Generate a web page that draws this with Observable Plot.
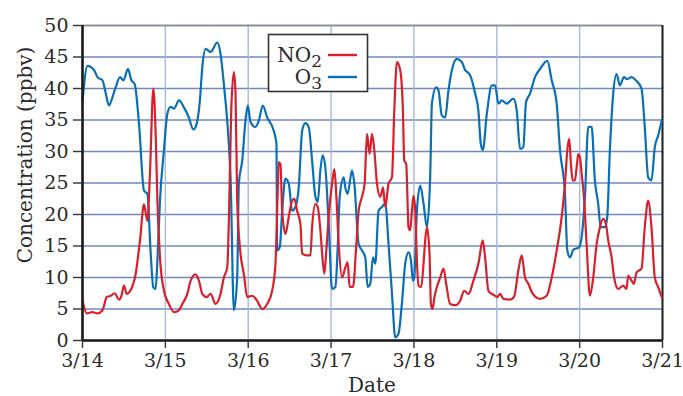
<!DOCTYPE html>
<html>
<head>
<meta charset="utf-8">
<script src="https://cdn.jsdelivr.net/npm/d3@7"></script>
<script src="https://cdn.jsdelivr.net/npm/@observablehq/plot@0.6"></script>
<style>
  html, body { margin: 0; padding: 0; background: #fff; }
  #chart svg { display: block; }
</style>
</head>
<body>
<div id="chart"></div>
<script>
// Days elapsed since 3/14 00:00
const o3Days = [0.000,0.060,0.140,0.181,0.241,0.281,0.320,0.361,0.401,0.453,0.494,0.549,0.590,0.630,0.682,0.742,0.783,0.823,0.855,0.883,0.904,0.935,0.983,1.024,1.064,1.104,1.164,1.224,1.284,1.337,1.365,1.417,1.446,1.486,1.546,1.627,1.666,1.706,1.766,1.787,1.827,1.867,1.887,1.928,1.967,1.995,2.028,2.088,2.128,2.176,2.229,2.308,2.341,2.349,2.381,2.410,2.449,2.489,2.530,2.570,2.610,2.651,2.690,2.730,2.771,2.811,2.839,2.871,2.899,2.931,2.971,3.012,3.052,3.080,3.104,3.152,3.172,3.200,3.253,3.281,3.333,3.373,3.413,3.441,3.473,3.506,3.534,3.573,3.614,3.654,3.694,3.735,3.775,3.814,3.855,3.895,3.935,3.964,3.988,4.004,4.036,4.076,4.116,4.157,4.196,4.217,4.269,4.296,4.337,4.377,4.417,4.458,4.518,4.578,4.618,4.646,4.678,4.739,4.778,4.807,4.831,4.880,4.940,4.980,5.019,5.060,5.120,5.200,5.241,5.281,5.320,5.353,5.401,5.461,5.522,5.610,5.663,5.723,5.763,5.823,5.851,5.884,5.923,5.995,6.024,6.064,6.104,6.145,6.184,6.224,6.253,6.305,6.333,6.365,6.405,6.446,6.486,6.534,6.573,6.627,6.678,6.747,6.786,6.827,6.867,6.907,6.947,6.990];
const o3Values = [38.0,43.6,42.9,41.8,41.3,39.2,37.3,38.6,40.2,41.8,41.3,43.1,41.3,40.7,34.4,23.8,23.3,13.8,8.4,8.2,12.7,22.2,30.2,36.0,37.1,36.8,38.1,37.0,35.4,33.5,33.9,38.1,43.4,46.3,45.8,47.3,45.5,40.7,31.2,25.9,4.8,10.0,24.9,28.6,34.9,37.3,34.7,33.9,34.9,37.3,35.4,33.3,31.2,14.3,14.8,20.6,25.7,24.9,20.6,21.2,24.3,33.3,34.5,33.9,28.6,22.8,22.0,27.0,29.4,27.5,18.5,8.2,8.5,14.8,22.8,25.9,24.3,23.3,27.0,24.9,15.3,14.3,13.2,8.5,9.0,13.2,12.2,20.6,21.2,21.7,15.3,7.4,0.5,1.1,5.9,12.2,14.0,12.7,9.5,10.0,20.6,24.6,21.7,18.0,25.9,37.6,40.2,39.7,35.7,35.4,39.7,42.9,44.7,44.2,42.9,42.6,42.1,39.2,36.5,31.2,30.2,36.0,40.5,40.5,37.6,38.1,37.6,38.4,36.5,30.4,30.7,37.8,39.2,41.8,43.1,44.4,41.3,37.6,30.2,23.3,14.3,13.2,14.4,14.8,16.4,22.8,33.9,33.9,25.4,21.7,18.0,18.0,19.6,30.2,39.2,42.3,40.5,41.8,41.5,41.8,41.3,40.0,33.9,25.9,25.4,30.7,32.5,34.9];

const no2Days = [0.000,0.052,0.120,0.181,0.241,0.293,0.341,0.389,0.441,0.470,0.501,0.534,0.582,0.642,0.694,0.742,0.783,0.814,0.855,0.883,0.904,0.935,0.983,1.043,1.104,1.164,1.205,1.265,1.305,1.365,1.405,1.446,1.498,1.546,1.606,1.666,1.706,1.747,1.778,1.795,1.827,1.847,1.867,1.907,1.947,1.988,2.048,2.108,2.169,2.229,2.289,2.329,2.349,2.369,2.389,2.410,2.449,2.489,2.530,2.558,2.590,2.630,2.651,2.711,2.751,2.771,2.811,2.839,2.871,2.899,2.919,2.943,2.971,3.012,3.040,3.064,3.092,3.133,3.172,3.200,3.224,3.265,3.305,3.333,3.373,3.405,3.434,3.465,3.494,3.522,3.554,3.594,3.627,3.654,3.694,3.735,3.763,3.795,3.835,3.867,3.883,3.907,3.935,3.955,3.976,3.995,4.016,4.036,4.055,4.088,4.116,4.136,4.157,4.188,4.205,4.224,4.248,4.277,4.317,4.357,4.389,4.437,4.498,4.558,4.606,4.658,4.718,4.778,4.831,4.859,4.899,4.940,4.980,5.007,5.040,5.080,5.160,5.208,5.260,5.301,5.341,5.381,5.422,5.461,5.522,5.602,5.663,5.723,5.783,5.823,5.851,5.875,5.895,5.916,5.943,5.964,5.983,6.004,6.024,6.052,6.084,6.124,6.164,6.205,6.245,6.284,6.317,6.345,6.386,6.416,6.465,6.525,6.566,6.586,6.627,6.655,6.687,6.747,6.786,6.827,6.867,6.907,6.947,6.990];
const no2Values = [6.3,4.3,4.5,4.3,4.8,6.9,7.1,7.5,6.5,7.1,8.7,7.4,8.0,10.6,15.9,21.6,19.0,26.5,40.0,32.8,22.2,13.2,7.9,5.8,4.5,4.8,5.8,7.4,9.5,10.5,9.5,7.4,6.9,7.4,5.8,7.4,10.0,11.6,25.9,36.5,42.6,39.2,22.2,13.8,10.6,6.9,7.1,6.3,5.0,5.8,7.9,12.2,20.6,28.3,28.0,20.6,16.9,19.6,22.2,22.5,20.6,18.5,13.8,13.5,13.5,18.0,21.7,21.2,17.5,12.7,10.6,14.3,19.6,24.9,27.2,22.8,15.3,10.0,11.6,12.4,8.5,8.5,15.3,20.6,22.8,24.9,32.8,29.6,32.8,30.2,24.9,22.8,24.3,21.2,24.9,25.9,36.5,44.2,42.9,36.5,28.6,28.0,18.0,17.5,20.6,23.0,20.6,12.7,8.7,8.5,12.2,15.9,18.0,13.8,5.8,5.0,6.9,8.5,10.0,11.4,9.0,5.8,5.6,6.3,7.9,7.4,9.5,12.2,15.9,13.2,7.9,7.4,7.1,6.9,7.4,6.6,6.5,6.9,11.1,13.5,10.0,9.0,7.7,7.0,6.6,7.1,10.0,14.3,19.6,24.9,30.2,32.0,28.0,25.4,25.4,27.5,29.6,29.1,26.5,22.8,15.3,7.1,10.0,15.3,18.0,19.3,18.5,15.9,13.2,10.0,8.2,8.7,8.2,10.3,9.5,9.0,10.8,11.4,18.0,22.2,18.0,10.0,8.5,6.9];

const tickDays = [14, 15, 16, 17, 18, 19, 20, 21];
const tickLabels = ["3/14", "3/15", "3/16", "3/17", "3/18", "3/19", "3/20", "3/21"];
const yTicks = [0, 5, 10, 15, 20, 25, 30, 35, 40, 45, 50];
const seriesNames = ["NO2", "O3"];
const yLabel = "Concentration (ppbv)";
const xLabel = "Date";

const startDay = 14;
const o3 = o3Days.map((d, i) => ({day: startDay + d, value: o3Values[i]}));
const no2 = no2Days.map((d, i) => ({day: startDay + d, value: no2Values[i]}));

const RED = "#d8202c";
const BLUE = "#0b6fb6";
const FONT = "'DejaVu Serif', serif";

const chart = Plot.plot({
  width: 683,
  height: 396,
  marginLeft: 82,
  marginRight: 21,
  marginTop: 25,
  marginBottom: 56,
  style: {fontFamily: FONT, fontSize: "19px", color: "#2a2a2a", background: "#fff", overflow: "visible"},
  x: {domain: [14, 21]},
  y: {domain: [0, 50]},
  marks: [
    Plot.gridY(yTicks, {stroke: "#7088bd", strokeOpacity: 1, strokeWidth: 1.4}),
    Plot.gridX(tickDays, {stroke: "#a9b8d7", strokeOpacity: 1, strokeWidth: 1.4}),
    Plot.ruleY([50], {stroke: "#8a8a8a", strokeWidth: 1.6}),
    Plot.ruleX([21], {stroke: "#222", strokeWidth: 2}),
    Plot.line(o3, {x: "day", y: "value", stroke: BLUE, strokeWidth: 2.2, curve: "monotone-x"}),
    Plot.line(no2, {x: "day", y: "value", stroke: RED, strokeWidth: 2.2, curve: "monotone-x"}),
    Plot.ruleX([14], {stroke: "#1a1a1a", strokeWidth: 2.6}),
    Plot.ruleY([0], {stroke: "#1a1a1a", strokeWidth: 2.6}),
    Plot.axisX({ticks: tickDays, tickFormat: (d) => tickLabels[tickDays.indexOf(d)], tickSize: 8, tickPadding: 5, label: null, stroke: "#333", strokeWidth: 1.4}),
    Plot.axisY({ticks: yTicks, tickSize: 9, tickPadding: 5, label: null, stroke: "#333", strokeWidth: 1.4})
  ]
});

document.getElementById("chart").appendChild(chart);

// Axis titles and legend added to the SVG
const svg = d3.select(chart);

svg.append("text")
  .attr("transform", "translate(32,155) rotate(-90)")
  .attr("text-anchor", "middle")
  .attr("font-family", FONT)
  .attr("font-size", 20)
  .attr("fill", "#2a2a2a")
  .text(yLabel);

svg.append("text")
  .attr("x", 372)
  .attr("y", 392)
  .attr("text-anchor", "middle")
  .attr("font-family", FONT)
  .attr("font-size", 20)
  .attr("fill", "#2a2a2a")
  .text(xLabel);

const lg = svg.append("g").attr("font-family", FONT).attr("fill", "#2a2a2a");
lg.append("rect")
  .attr("x", 268.5).attr("y", 34.5).attr("width", 99).attr("height", 57)
  .attr("fill", "#fff").attr("stroke", "#333").attr("stroke-width", 1.6);

const legendItems = [
  {base: "NO", sub: "2", color: RED, y: 62, lineY: 55},
  {base: "O", sub: "3", color: BLUE, y: 84, lineY: 77}
];
legendItems.forEach((it) => {
  const t = lg.append("text")
    .attr("x", 322).attr("y", it.y)
    .attr("text-anchor", "end")
    .attr("font-size", 20);
  t.append("tspan").text(it.base);
  t.append("tspan").attr("dy", 5).attr("font-size", 17).text(it.sub);
  lg.append("line")
    .attr("x1", 328).attr("x2", 357)
    .attr("y1", it.lineY).attr("y2", it.lineY)
    .attr("stroke", it.color).attr("stroke-width", 2.4);
});
</script>
</body>
</html>
